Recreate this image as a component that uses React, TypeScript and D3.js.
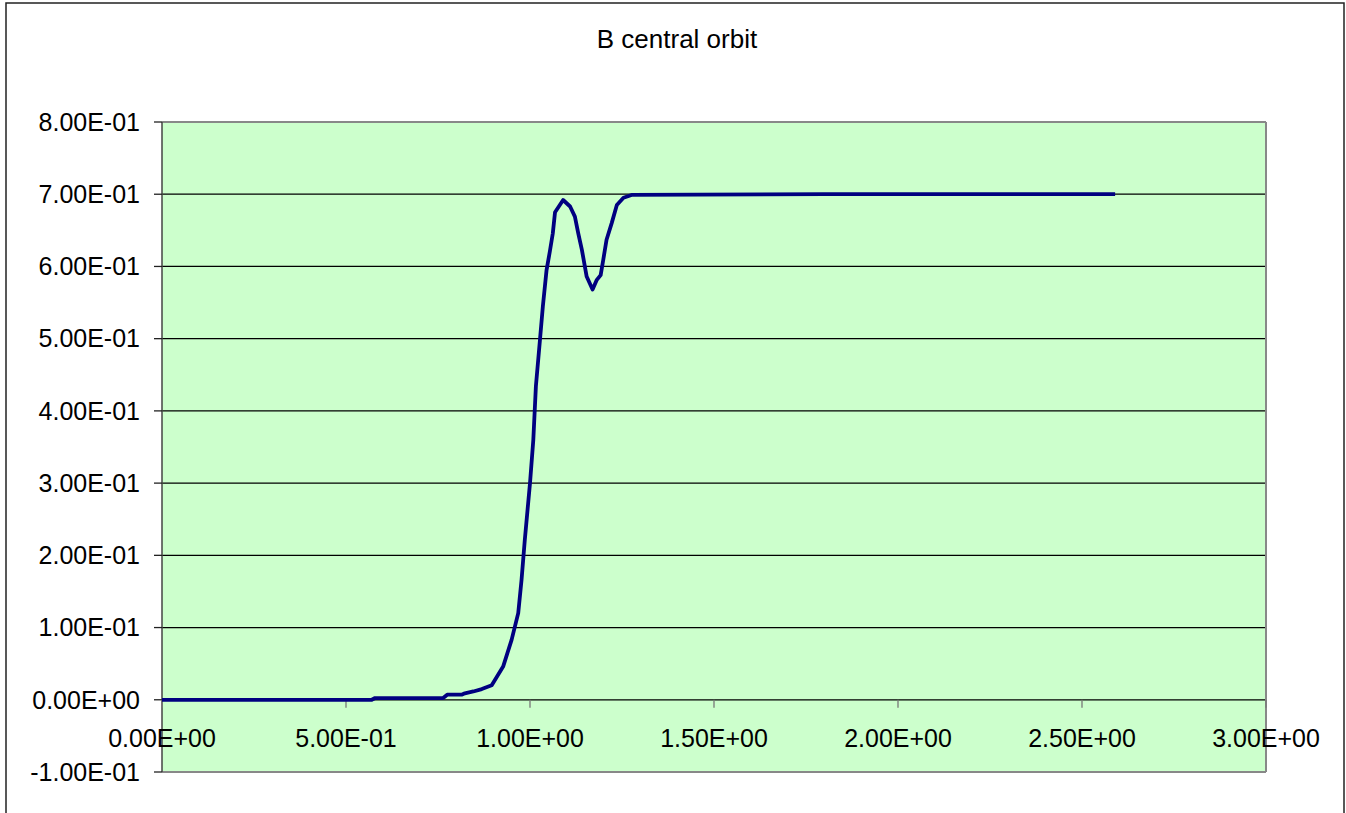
import React from "react";
import * as d3 from "d3";

const title = "B central orbit";
const xValues = [0, 0.57, 0.579, 0.764, 0.775, 0.814, 0.823, 0.846, 0.869, 0.896, 0.927, 0.95, 0.968, 0.977, 0.986, 1.0, 1.009, 1.016, 1.027, 1.035, 1.045, 1.054, 1.062, 1.068, 1.09, 1.109, 1.122, 1.131, 1.141, 1.154, 1.17, 1.181, 1.192, 1.199, 1.208, 1.222, 1.236, 1.254, 1.276, 1.8, 2.59];
const yValues = [0, 0, 0.0024, 0.0024, 0.007, 0.007, 0.009, 0.0115, 0.0148, 0.02, 0.046, 0.083, 0.12, 0.166, 0.222, 0.3, 0.36, 0.434, 0.498, 0.545, 0.595, 0.621, 0.646, 0.675, 0.692, 0.683, 0.669, 0.646, 0.623, 0.586, 0.568, 0.581, 0.588, 0.609, 0.637, 0.66, 0.685, 0.695, 0.699, 0.7, 0.7];
const xTicks = [0, 0.5, 1, 1.5, 2, 2.5, 3];
const yTicks = [-0.1, 0, 0.1, 0.2, 0.3, 0.4, 0.5, 0.6, 0.7, 0.8];

function fmt(v: number): string {
  const s = v.toExponential(2);
  const [m, e] = s.split("e");
  const sign = e[0] === "-" ? "-" : "+";
  const digits = e.replace(/[+-]/, "").padStart(2, "0");
  return `${m}E${sign}${digits}`;
}

export default function App() {
  const W = 1346, H = 813;
  const left = 162, right = 1266, top = 122, bottom = 772;
  const x = d3.scaleLinear().domain([0, 3]).range([left, right]);
  const y = d3.scaleLinear().domain([-0.1, 0.8]).range([bottom, top]);
  const pts = xValues.map((v, i) => [v, yValues[i]] as [number, number]);
  const line = d3.line<[number, number]>().x(d => x(d[0])).y(d => y(d[1]));
  const font = "'Liberation Sans', Arial, sans-serif";
  return (
    <svg width={W} height={H} style={{ position: "absolute", left: 0, top: 0, display: "block", background: "#fff" }}>
      <rect x={6} y={3} width={1338} height={830} fill="#fff" stroke="#222" strokeWidth={1.5} />
      <text x={677} y={48} textAnchor="middle" fontFamily={font} fontSize={26} fill="#000">{title}</text>
      <rect x={left} y={top} width={right - left} height={bottom - top} fill="#CCFFCC" />
      {yTicks.filter(t => t > -0.1 + 1e-9 && t < 0.8 - 1e-9).map(t => (
        <line key={"g" + t} x1={left} x2={right} y1={y(t)} y2={y(t)} stroke="#000" strokeWidth={1.3} />
      ))}
      <line x1={left} x2={right} y1={top} y2={top} stroke="#888" strokeWidth={2} />
      <line x1={right} x2={right} y1={top} y2={bottom} stroke="#888" strokeWidth={2} />
      <line x1={left} x2={right} y1={bottom} y2={bottom} stroke="#888" strokeWidth={2} />
      <line x1={left} x2={left} y1={top} y2={bottom} stroke="#444" strokeWidth={1.5} />
      {yTicks.map(t => (
        <g key={"y" + t}>
          <line x1={left - 8} x2={left} y1={y(t)} y2={y(t)} stroke="#222" strokeWidth={1.3} />
          <text x={140} y={y(t)} dy="0.35em" textAnchor="end" fontFamily={font} fontSize={25} fill="#000">{fmt(t)}</text>
        </g>
      ))}
      {xTicks.map(t => (
        <g key={"x" + t}>
          <line x1={x(t)} x2={x(t)} y1={y(0)} y2={y(0) + 8} stroke="#777" strokeWidth={1.3} />
          <text x={x(t)} y={747} textAnchor="middle" fontFamily={font} fontSize={25} fill="#000">{fmt(t)}</text>
        </g>
      ))}
      <path d={line(pts) || ""} fill="none" stroke="#000080" strokeWidth={3.8} strokeLinejoin="round" />
    </svg>
  );
}
